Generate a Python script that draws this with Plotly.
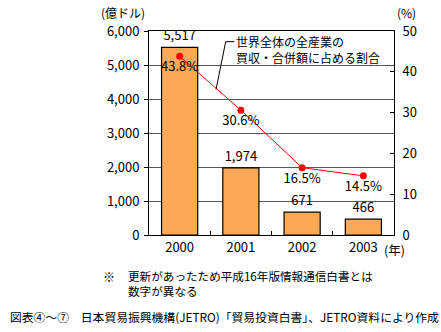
import plotly.graph_objects as go

years = ["2000", "2001", "2002", "2003"]
amounts = [5517, 1974, 671, 466]          # 億ドル
shares = [43.8, 30.6, 16.5, 14.5]         # %
share_labels = ["43.8%", "30.6%", "16.5%", "14.5%"]
left_ticks = [0, 1000, 2000, 3000, 4000, 5000, 6000]
right_ticks = [0, 10, 20, 30, 40, 50]

W, H = 441, 332
L, R, T, B = 149, 47, 31, 97
PW, PH = W - L - R, H - T - B

def px(x):
    return (x - L) / PW

def py(y):
    return (H - B - y) / PH

FONT = "Noto Sans CJK JP, Noto Sans, sans-serif"

fig = go.Figure()
fig.add_trace(go.Bar(
    x=years, y=amounts,
    marker=dict(color="#FBA957", line=dict(color="black", width=1.2)),
    text=[f"{v:,}" for v in amounts], textposition="outside",
    textfont=dict(size=13, color="black"),
    cliponaxis=False, showlegend=False,
))
fig.add_trace(go.Scatter(
    x=years, y=shares, yaxis="y2", mode="lines+markers+text",
    line=dict(color="#FF0000", width=1),
    marker=dict(color="#FF0000", size=7),
    text=share_labels, textposition="bottom center",
    textfont=dict(size=13, color="black"),
    cliponaxis=False, showlegend=False,
))

fig.update_layout(
    width=W, height=H,
    margin=dict(l=L, r=R, t=T, b=B, pad=0),
    paper_bgcolor="white", plot_bgcolor="white",
    font=dict(family=FONT, size=13, color="black"),
    bargap=0.41,
    xaxis=dict(
        type="category", range=[-0.5, 3.5],
        showline=True, linecolor="black", linewidth=1, mirror=True,
        ticks="inside", ticklen=4, tickcolor="black", tickson="boundaries",
        showgrid=False, tickfont=dict(size=13),
    ),
    yaxis=dict(
        range=[0, 6000], tickvals=left_ticks, tickformat=",",
        showline=True, linecolor="black", linewidth=1,
        ticks="outside", ticklen=4, tickcolor="black",
        showgrid=True, gridcolor="#555555", gridwidth=1,
        zeroline=False, tickfont=dict(size=13), ticklabelstandoff=2,
    ),
    yaxis2=dict(
        range=[0, 50], tickvals=right_ticks, overlaying="y", side="right",
        showline=True, linecolor="black", linewidth=1,
        ticks="inside", ticklen=4, tickcolor="black",
        showgrid=False, zeroline=False, tickfont=dict(size=13),
        ticklabelstandoff=5,
    ),
)

def ann(text, x, y, xanchor="left", size=12, yanchor="middle"):
    fig.add_annotation(text=text, xref="paper", yref="paper", x=px(x), y=py(y),
                       xanchor=xanchor, yanchor=yanchor, showarrow=False,
                       align="left", borderpad=0,
                       font=dict(size=size, family=FONT, color="black"))

ann("(億ドル)", 146, 12, xanchor="right")
ann("(%)", 396, 12)
ann("(年)", 383, 249, size=12.5)
ann("世界全体の全産業の<br>買収・合併額に占める割合", 235, 49.5)
ann("※", 102, 276)
ann("更新があったため平成16年版情報通信白書とは<br>数字が異なる", 127, 283, size=11.6)
ann("図表④～⑦　日本貿易振興機構(JETRO)「貿易投資白書」、JETRO資料により作成", 9, 316, size=11.8)

# leader line for the line-series label
fig.add_shape(type="path", xref="paper", yref="paper",
              path=f"M {px(216)} {py(89.5)} L {px(225.7)} {py(41.7)} L {px(234.3)} {py(41.7)}",
              line=dict(color="black", width=1))

fig.write_html("out.html")
